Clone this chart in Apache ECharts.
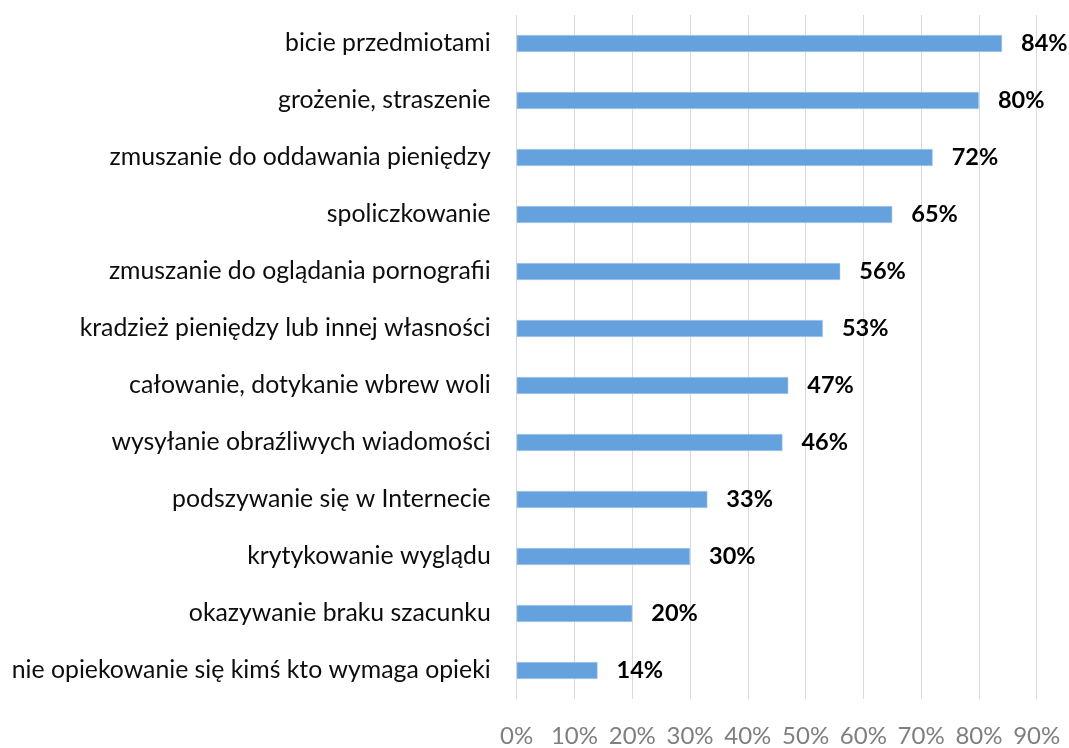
<!DOCTYPE html>
<html><head><meta charset="utf-8">
<script src="https://cdn.jsdelivr.net/npm/echarts@6/dist/echarts.min.js"></script>
<style>html,body{margin:0;padding:0;background:#fff}#c{width:1069px;height:748px}</style>
</head><body><div id="c"></div>
<script>
const categories = [
  'bicie przedmiotami',
  'grożenie, straszenie',
  'zmuszanie do oddawania pieniędzy',
  'spoliczkowanie',
  'zmuszanie do oglądania pornografii',
  'kradzież pieniędzy lub innej własności',
  'całowanie, dotykanie wbrew woli',
  'wysyłanie obraźliwych wiadomości',
  'podszywanie się w Internecie',
  'krytykowanie wyglądu',
  'okazywanie braku szacunku',
  'nie opiekowanie się kimś kto wymaga opieki'
];
const values = [84, 80, 72, 65, 56, 53, 47, 46, 33, 30, 20, 14];
const tickMin = 0, tickMax = 90, tickStep = 10;

const chart = echarts.init(document.getElementById('c'));
const FONT = 'Lato';
chart.setOption({
  animation: false,
  grid: { left: 516.7, right: 32.3, top: 15, bottom: 46.3, containLabel: false },
  xAxis: {
    type: 'value', min: tickMin, max: tickMax, interval: tickStep,
    axisLine: { show: false }, axisTick: { show: false },
    splitLine: { show: true, lineStyle: { color: '#d9d9d9', width: 1 } },
    axisLabel: { formatter: '{value}%', color: '#7f7f7f', fontSize: 24, fontFamily: FONT, margin: 25 }
  },
  yAxis: {
    type: 'category', data: categories, inverse: true,
    axisLine: { show: false }, axisTick: { show: false },
    axisLabel: { color: '#0d0d0d', fontSize: 24.8, fontFamily: FONT, margin: 26 }
  },
  series: [{
    type: 'bar', data: values, barWidth: 17,
    itemStyle: { color: '#65a2dd', borderColor: '#b6d3ef', borderWidth: 0.5 },
    label: { show: true, position: 'right', distance: 19, formatter: '{c}%', color: '#000', fontWeight: 'bold', fontSize: 23.5, fontFamily: FONT }
  }]
});
</script></body></html>
